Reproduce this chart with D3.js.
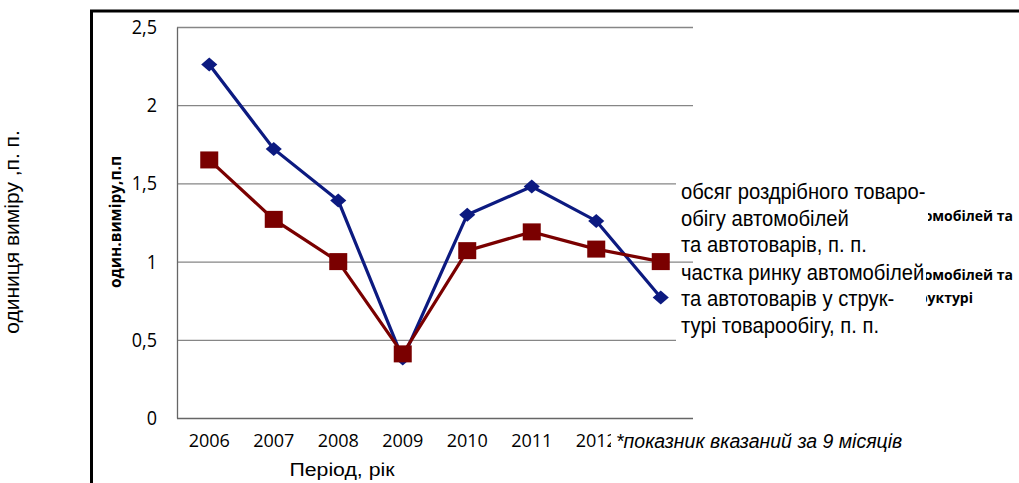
<!DOCTYPE html>
<html>
<head>
<meta charset="utf-8">
<script src="https://cdn.jsdelivr.net/npm/d3@7"></script>
<style>
body { margin: 0; background: #fff; }
svg { display: block; }
</style>
</head>
<body>
<script>
// categories and series
var years = ["2006", "2007", "2008", "2009", "2010", "2011", "2012", "2013"];
var turnover = [2.26, 1.72, 1.39, 0.38, 1.30, 1.48, 1.26, 0.77];
var share = [1.65, 1.27, 1.00, 0.41, 1.07, 1.19, 1.08, 1.00];
var yTicks = [0, 0.5, 1, 1.5, 2, 2.5];
var legend1 = ["обсяг роздрібного товаро-", "обігу автомобілей", "та автотоварів, п. п."];
var legend2 = ["частка ринку автомобілей", "та автотоварів у струк-", "турі товарообігу, п. п."];

var W = 1019, H = 483;
var margin = {top: 27, right: 326, bottom: 65, left: 177};
var width = W - margin.left - margin.right;
var height = H - margin.top - margin.bottom;

var x = d3.scaleBand()
.domain(years)
.range([0, width]);

var y = d3.scaleLinear()
.domain([0, 2.5])
.range([height, 0]);

var svg = d3.select('body')
.append('svg')
.attr('width', W)
.attr('height', H)
.style('font-family', 'Liberation Sans, Arial, sans-serif');

// outer frame
svg.append('path')
.attr('d', 'M91.5,' + H + 'V11H' + W)
.attr('fill', 'none')
.attr('stroke', '#000')
.attr('stroke-width', 3);

svg.append('text')
.attr('transform', 'translate(19,232) rotate(-90)')
.style('text-anchor', 'middle')
.style('font-size', '21px')
.text('одиниця виміру ,п. п.');

var main = svg.append('g')
.attr('transform', 'translate(' + margin.left + ',' + margin.top + ')');

// gridlines
main.append('g')
.selectAll('line')
.data(yTicks.slice(1))
.enter().append('line')
.attr('x1', 0)
.attr('x2', width)
.attr('y1', function(d) { return y(d) + 0.5; })
.attr('y2', function(d) { return y(d) + 0.5; })
.attr('stroke', '#868686')
.attr('stroke-width', 1.3);

var yaxis = d3.axisLeft(y)
.tickValues(yTicks)
.tickSize(0)
.tickPadding(20)
.tickFormat(function(d) { return String(d).replace('.', ','); });

main.append('g')
.call(yaxis)
.call(function(g) {
  g.select('.domain').attr('stroke', '#666').attr('stroke-width', 1.3);
  g.selectAll('text')
  .style('font-family', 'Open Sans')
  .style('font-size', '20px')
  .attr('fill', '#000')
  .attr('x', -20 / 0.9)
  .attr('transform', 'scale(0.9,1)');
});

var xaxis = d3.axisBottom(x).tickSize(0).tickPadding(16);

main.append('g')
.attr('transform', 'translate(0,' + height + ')')
.call(xaxis)
.call(function(g) {
  g.select('.domain').attr('stroke', '#666').attr('stroke-width', 1.3).attr('d', 'M0,0.5H' + width);
  g.selectAll('text')
  .style('font-family', 'Open Sans')
  .style('font-size', '19px')
  .attr('fill', '#000')
  .attr('transform', 'scale(0.95,1)');
});

svg.append('text')
.attr('transform', 'translate(342,476) scale(1.15,1)')
.style('text-anchor', 'middle')
.style('font-size', '18.5px')
.text('Період, рік');

main.append('text')
.attr('transform', 'translate(-56,195) rotate(-90)')
.style('text-anchor', 'middle')
.style('font-family', 'Open Sans')
.style('font-weight', 'bold')
.style('font-size', '15.5px')
.text('один.виміру,п.п');

var cx = function(d, i) { return x(years[i]) + x.bandwidth() / 2; };

var line = d3.line()
.x(function(d, i) { return x(years[i]) + x.bandwidth() / 2; })
.y(function(d) { return y(d); });

main.append('path')
.datum(turnover)
.attr('d', line)
.attr('fill', 'none')
.attr('stroke', '#0c1a80')
.attr('stroke-width', 3.2);

main.append('path')
.datum(share)
.attr('d', line)
.attr('fill', 'none')
.attr('stroke', '#7a0000')
.attr('stroke-width', 3.2);

main.append('g')
.selectAll('path')
.data(turnover)
.enter().append('path')
.attr('d', d3.symbol().type(d3.symbolDiamond2).size(125))
.attr('transform', function(d, i) { return 'translate(' + cx(d, i) + ',' + y(d) + ') scale(1.15,1)'; })
.attr('fill', '#0c1a80');

main.append('g')
.selectAll('rect')
.data(share)
.enter().append('rect')
.attr('x', function(d, i) { return cx(d, i) - 9; })
.attr('y', function(d) { return y(d) - 8.5; })
.attr('width', 18)
.attr('height', 17)
.attr('fill', '#7a0000');

// ghost legend peeking out behind the text boxes
var ghost = svg.append('g')
.style('font-family', 'Open Sans')
.style('font-weight', 'bold')
.style('font-size', '14px')
.style('text-anchor', 'end');
ghost.append('text').attr('x', 1013).attr('y', 221).text('автомобілей та');
ghost.append('text').attr('x', 1013).attr('y', 280).text('ринку автомобілей та');
ghost.append('text').attr('x', 973).attr('y', 303).text('у структурі');

// legend text boxes
svg.append('rect').attr('x', 676).attr('y', 176).attr('width', 252).attr('height', 80).attr('fill', '#fff');
svg.append('rect').attr('x', 676).attr('y', 264).attr('width', 250).attr('height', 80).attr('fill', '#fff');

var leg = svg.append('g')
.attr('transform', 'translate(681,0) scale(0.92,1)')
.style('font-size', '22px');
leg.selectAll('.l1')
.data(legend1)
.enter().append('text')
.attr('x', 0)
.attr('y', function(d, i) { return 199.5 + i * 26.5; })
.text(function(d) { return d; });
leg.selectAll('.l2')
.data(legend2)
.enter().append('text')
.attr('x', 0)
.attr('y', function(d, i) { return 280 + i * 26.5; })
.text(function(d) { return d; });

// footnote
svg.append('rect').attr('x', 611).attr('y', 428).attr('width', 305).attr('height', 28).attr('fill', '#fff');
svg.append('text')
.attr('x', 616)
.attr('y', 448)
.style('font-style', 'italic')
.style('font-size', '19.5px')
.text('*показник вказаний за 9 місяців');
</script>
</body>
</html>
